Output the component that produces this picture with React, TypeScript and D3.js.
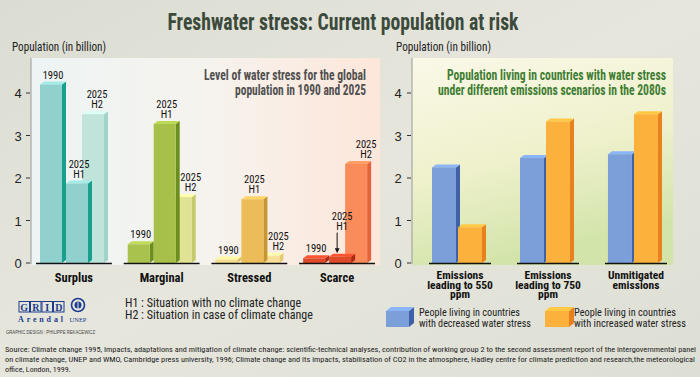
import React from "react";
import * as d3 from "d3";

const categories = ["Surplus", "Marginal", "Stressed", "Scarce"];
const seriesLeft = ["1990", "2025 H1", "2025 H2"];
const surplus = [4.2, 1.87, 3.5];
const marginal = [0.44, 3.27, 1.55];
const stressed = [0.08, 1.5, 0.17];
const scarce = [0.11, 0.15, 2.33];
const leftValues = [surplus, marginal, stressed, scarce];

const scenarios = ["Emissions leading to 550 ppm", "Emissions leading to 750 ppm", "Unmitigated emissions"];
const scenarioLines = [["Emissions", "leading to 550", "ppm"], ["Emissions", "leading to 750", "ppm"], ["Unmitigated", "emissions"]];
const decreasedStress = [2.25, 2.47, 2.56];
const increasedStress = [0.84, 3.33, 3.5];
const yTicks = [0, 1, 2, 3, 4];

const NARROW = "'Liberation Sans Narrow', 'Arial Narrow', 'Roboto Condensed', 'Liberation Sans', sans-serif";
const SANS = "'Liberation Sans', Arial, sans-serif";

const leftColors = [
  [{ f: "#90d0cd", s: "#18a08e" }, { f: "#90d0cd", s: "#18a08e" }, { f: "#c0e4da", s: "#9fd5c8" }],
  [{ f: "#a9c24e", s: "#6c8e1f" }, { f: "#a6c04a", s: "#6b8e1f" }, { f: "#e0e294", s: "#c6ca6a" }],
  [{ f: "#f2dc8e", s: "#dfbf5e" }, { f: "#ebbc58", s: "#c99530" }, { f: "#f6e09a", s: "#e6ca6e" }],
  [{ f: "#de4b2a", s: "#a92b13" }, { f: "#de4b2a", s: "#a92b13" }, { f: "#fa8c5c", s: "#e5623a" }],
];
const blue = { f: "#7ba0d9", s: "#3e61a8" };
const orange = { f: "#fbb13c", s: "#e8801e" };

const DX = 4, DY = 3;

function Bar3D({ x, y, w, base, c, dx = DX, dy = DY }: { x: number; y: number; w: number; base: number; c: { f: string; s: string }; dx?: number; dy?: number }) {
  const top = d3.color(c.f)!.brighter(0.35).formatHex();
  return (
    <g>
      <polygon points={`${x + w},${y} ${x + w + dx},${y - dy} ${x + w + dx},${base - dy} ${x + w},${base}`} fill={c.s} />
      <polygon points={`${x},${y} ${x + dx},${y - dy} ${x + w + dx},${y - dy} ${x + w},${y}`} fill={top} />
      <rect x={x} y={y} width={w} height={Math.max(0, base - y)} fill={c.f} />
    </g>
  );
}

export default function App() {
  const W = 700, H = 377;
  const base = 263;
  const y = d3.scaleLinear().domain([0, 4]).range([base, base - 170]);

  const x0 = d3.scaleBand<string>().domain(categories).range([36, 375]).paddingInner(0.135);
  const seriesOffset = d3.scaleOrdinal<string, number>().domain(seriesLeft).range([4, 30, 46]);
  const bwL = 22;
  const drawOrder = [2, 0, 1];

  const xr = d3.scaleBand<string>().domain(scenarios).range([429, 667]).paddingInner(0.295);
  const bwR = 24;

  const axisL = 31, axisR = 412;

  const labelFor = (ci: number, si: number) => {
    const bx = x0(categories[ci])! + seriesOffset(seriesLeft[si]);
    const v = leftValues[ci][si];
    const ty = y(v) - DY - 3;
    let cx = bx + (bwL + DX) / 2;
    if (si === 2 && ci > 0) cx = bx + bwL + DX - 5;
    if (si === 2 && ci === 0) cx = bx + 15;
    const lines = si === 0 ? ["1990"] : ["2025", si === 1 ? "H1" : "H2"];
    let yb = ty;
    if (ci === 3 && si === 1) yb = y(v) - 27;
    return (
      <text key={`l${ci}${si}`} x={cx} textAnchor="middle" fontFamily={NARROW} fontSize={10.5} fill="#111">
        {lines.map((t, i) => (
          <tspan key={i} x={cx} y={yb - (lines.length - 1 - i) * 10}>{t}</tspan>
        ))}
      </text>
    );
  };

  return (
    <svg width={W} height={H} style={{ display: "block", position: "absolute", left: 0, top: 0 }}>
      <defs>
        <linearGradient id="bgGrad" x1="0" y1="0" x2="1" y2="1">
          <stop offset="0" stopColor="#dcddd2" />
          <stop offset="0.5" stopColor="#e6e6dd" />
          <stop offset="1" stopColor="#dedfd4" />
        </linearGradient>
        <linearGradient id="leftGrad" x1="0" y1="0" x2="1" y2="0">
          <stop offset="0" stopColor="#edf4f4" />
          <stop offset="0.5" stopColor="#f6f3ee" />
          <stop offset="1" stopColor="#fde6da" />
        </linearGradient>
        <linearGradient id="rightGrad" x1="0" y1="0" x2="0.3" y2="1">
          <stop offset="0" stopColor="#faf8e8" />
          <stop offset="0.55" stopColor="#eff1cc" />
          <stop offset="1" stopColor="#d2e4aa" />
        </linearGradient>
        <marker id="arrow" viewBox="0 0 10 10" refX="5" refY="5" markerWidth="5" markerHeight="5" orient="auto">
          <path d="M0,0 L10,5 L0,10 z" fill="#111" />
        </marker>
      </defs>
      <rect x={0} y={0} width={W} height={H} fill="url(#bgGrad)" />

      {/* Title */}
      <text x={343} y={30} textAnchor="middle" fontFamily={NARROW} fontWeight="bold" fontSize={23} fill="#3c4a3c" textLength={351} lengthAdjust="spacingAndGlyphs">
        Freshwater stress: Current population at risk
      </text>
      <text x={12} y={51} fontFamily={NARROW} fontSize={12.5} fill="#222" textLength={94} lengthAdjust="spacingAndGlyphs">Population (in billion)</text>
      <text x={396} y={51} fontFamily={NARROW} fontSize={12.5} fill="#222" textLength={95} lengthAdjust="spacingAndGlyphs">Population (in billion)</text>

      {/* Panels */}
      <rect x={axisL} y={58} width={349} height={207} fill="url(#leftGrad)" />
      <rect x={axisR} y={58} width={261} height={207} fill="url(#rightGrad)" />

      {/* Left axis */}
      <line x1={axisL} x2={axisL} y1={58} y2={base + 1} stroke="#9a9a9a" strokeWidth={1} />
      {yTicks.map((t) => (
        <g key={`lt${t}`}>
          <line x1={axisL - 5} x2={axisL - 1} y1={y(t)} y2={y(t)} stroke="#333" />
          <text x={18} y={y(t) + 5} textAnchor="middle" fontFamily={SANS} fontSize={13} fill="#222">{t}</text>
        </g>
      ))}
      {/* Right axis */}
      <line x1={axisR} x2={axisR} y1={58} y2={base + 1} stroke="#9a9a9a" strokeWidth={1} />
      {yTicks.map((t) => (
        <g key={`rt${t}`}>
          <line x1={axisR - 5} x2={axisR - 1} y1={y(t)} y2={y(t)} stroke="#333" />
          <text x={398} y={y(t) + 5} textAnchor="middle" fontFamily={SANS} fontSize={13} fill="#222">{t}</text>
        </g>
      ))}

      {/* Left subtitle */}
      <text x={366} y={80} textAnchor="end" fontFamily={NARROW} fontWeight="bold" fontSize={14} fill="#505050" textLength={162} lengthAdjust="spacingAndGlyphs">Level of water stress for the global</text>
      <text x={366} y={94.5} textAnchor="end" fontFamily={NARROW} fontWeight="bold" fontSize={14} fill="#505050" textLength={131} lengthAdjust="spacingAndGlyphs">population in 1990 and 2025</text>

      {/* Right subtitle */}
      <text x={666} y={80} textAnchor="end" fontFamily={NARROW} fontWeight="bold" fontSize={14} fill="#3f7d33" textLength={219} lengthAdjust="spacingAndGlyphs">Population living in countries with water stress</text>
      <text x={666} y={94.5} textAnchor="end" fontFamily={NARROW} fontWeight="bold" fontSize={14} fill="#3f7d33" textLength={228} lengthAdjust="spacingAndGlyphs">under different emissions scenarios in the 2080s</text>

      {/* Left bars */}
      {categories.map((cat, ci) => (
        <g key={cat}>
          {drawOrder.map((si) => (
            <Bar3D key={si} x={x0(cat)! + seriesOffset(seriesLeft[si])} y={y(leftValues[ci][si])} w={bwL} base={base} c={leftColors[ci][si]} />
          ))}
          <line x1={x0(cat)!} x2={x0(cat)! + x0.bandwidth()} y1={base + 0.5} y2={base + 0.5} stroke="#111" strokeWidth={1.6} />
          <text x={x0(cat)! + x0.bandwidth() / 2} y={282} textAnchor="middle" fontFamily={NARROW} fontWeight="bold" fontSize={12.5} fill="#111">{cat}</text>
          {[0, 1, 2].map((si) => labelFor(ci, si))}
        </g>
      ))}
      {/* Arrow for scarce H1 */}
      <line
        x1={x0("Scarce")! + seriesOffset("2025 H1") + 8}
        x2={x0("Scarce")! + seriesOffset("2025 H1") + 8}
        y1={y(scarce[1]) - 24}
        y2={y(scarce[1]) - 6}
        stroke="#111"
        strokeWidth={1}
        markerEnd="url(#arrow)"
      />

      {/* Right bars */}
      {scenarios.map((sc, i) => (
        <g key={sc}>
          <Bar3D x={xr(sc)! + 3} y={y(decreasedStress[i])} w={bwR} base={base} c={blue} />
          <Bar3D x={xr(sc)! + 29} y={y(increasedStress[i])} w={bwR} base={base} c={orange} />
          <line x1={xr(sc)!} x2={xr(sc)! + xr.bandwidth()} y1={base + 0.5} y2={base + 0.5} stroke="#111" strokeWidth={1.6} />
          <text textAnchor="middle" fontFamily={NARROW} fontWeight="bold" fontSize={11.5} fill="#111">
            {scenarioLines[i].map((t, k) => (
              <tspan key={k} x={xr(sc)! + xr.bandwidth() / 2} y={279 + k * 9.7}>{t}</tspan>
            ))}
          </text>
        </g>
      ))}

      {/* Right legend */}
      <Bar3D x={386} y={311} w={23} base={327} c={blue} dx={5} dy={4} />
      <text fontFamily={NARROW} fontSize={11.5} fill="#222">
        <tspan x={419} y={316} textLength={101} lengthAdjust="spacingAndGlyphs">People living in countries</tspan>
        <tspan x={419} y={327} textLength={112} lengthAdjust="spacingAndGlyphs">with decreased water stress</tspan>
      </text>
      <Bar3D x={545} y={311} w={24} base={327} c={orange} dx={5} dy={4} />
      <text fontFamily={NARROW} fontSize={11.5} fill="#222">
        <tspan x={574} y={316} textLength={102} lengthAdjust="spacingAndGlyphs">People living in countries</tspan>
        <tspan x={574} y={327} textLength={112} lengthAdjust="spacingAndGlyphs">with increased water stress</tspan>
      </text>

      {/* H1/H2 legend */}
      <text fontFamily={NARROW} fontSize={12} fill="#222">
        <tspan x={125} y={307}>H1 : Situation with no climate change</tspan>
        <tspan x={125} y={319}>H2 : Situation in case of climate change</tspan>
      </text>

      {/* Logo */}
      <g fill="none" stroke="#1c3d8e" strokeWidth={1}>
        {["G", "R", "I", "D"].map((ch, i) => (
          <rect key={ch} x={19 + i * 11.5} y={301.5} width={10.5} height={10.5} />
        ))}
      </g>
      {["G", "R", "I", "D"].map((ch, i) => (
        <text key={`t${ch}`} x={24.25 + i * 11.5} y={310.5} textAnchor="middle" fontFamily="'Liberation Serif', serif" fontWeight="bold" fontSize={10} fill="#1c3d8e">{ch}</text>
      ))}
      <text x={18} y={322} fontFamily="'Liberation Serif', serif" fontWeight="bold" fontSize={8} fill="#1c3d8e" textLength={45} lengthAdjust="spacing">Arendal</text>
      <circle cx={78} cy={305} r={6.5} fill="none" stroke="#1c3d8e" strokeWidth={1.6} />
      <circle cx={78} cy={305} r={3.5} fill="#1c3d8e" />
      <line x1={78} x2={78} y1={302} y2={309} stroke="#e8e8e0" strokeWidth={1} />
      <text x={78} y={322} textAnchor="middle" fontFamily="'Liberation Serif', serif" fontSize={6.5} fill="#1c3d8e">UNEP</text>
      <text x={6} y={334} fontFamily={SANS} fontSize={5} fill="#444" textLength={89} lengthAdjust="spacingAndGlyphs">GRAPHIC DESIGN : PHILIPPE REKACEWICZ</text>

      {/* Source */}
      <text fontFamily={NARROW} fontSize={8} fill="#222">
        <tspan x={5} y={352} textLength={691} lengthAdjust="spacingAndGlyphs">Source: Climate change 1995, Impacts, adaptations and mitigation of climate change: scientific-technical analyses, contribution of working group 2 to the second assessment report of the intergovernmental panel</tspan>
      </text>
      <text fontFamily={NARROW} fontSize={8} fill="#222">
        <tspan x={5} y={362} textLength={690} lengthAdjust="spacingAndGlyphs">on climate change, UNEP and WMO, Cambridge press university,  1996; Climate change and its impacts, stabilisation of CO2 in the atmosphere, Hadley centre for climate prediction and research,the meteorological</tspan>
      </text>
      <text x={5} y={372} fontFamily={NARROW} fontSize={8} fill="#222">office, London, 1999.</text>
    </svg>
  );
}
